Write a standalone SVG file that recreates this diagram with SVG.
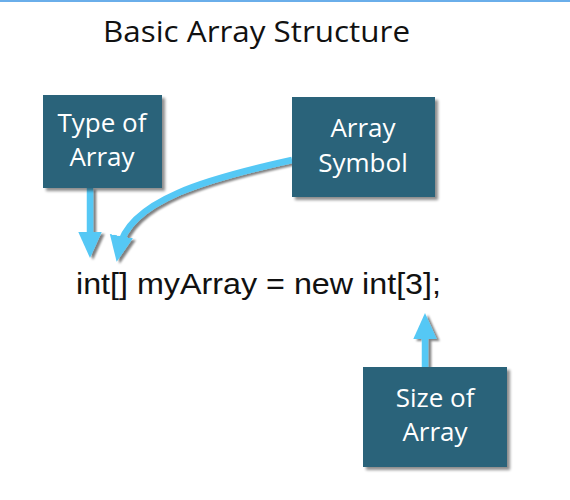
<svg xmlns="http://www.w3.org/2000/svg" width="570" height="500" viewBox="0 0 570 500">
<defs>
<filter id="sh" x="-20%" y="-20%" width="140%" height="140%">
<feGaussianBlur in="SourceAlpha" stdDeviation="1.5"/>
<feOffset dx="3" dy="3" result="b"/>
<feComponentTransfer><feFuncA type="linear" slope="0.45"/></feComponentTransfer>
<feMerge><feMergeNode/><feMergeNode in="SourceGraphic"/></feMerge>
</filter>
<filter id="shc" filterUnits="userSpaceOnUse" x="0" y="0" width="570" height="500">
<feGaussianBlur in="SourceAlpha" stdDeviation="1"/>
<feOffset dx="3" dy="2" result="b"/>
<feComponentTransfer><feFuncA type="linear" slope="0.5"/></feComponentTransfer>
<feMerge><feMergeNode/><feMergeNode in="SourceGraphic"/></feMerge>
</filter>
<marker id="ah" markerWidth="4" markerHeight="4" refX="2" refY="2" orient="auto" markerUnits="strokeWidth" viewBox="0 0 4 4">
<path d="M0,0.2 L4,2 L0,3.8 Z" fill="#55c8f5"/>
</marker>
<style>
.box{fill:#2a637a;filter:url(#sh)}
.bt{fill:#ffffff;font-family:"Open Sans","Noto Sans",sans-serif;font-size:26px;text-anchor:middle}
.con{fill:none;stroke:#55c8f5;stroke-width:6.5;marker-end:url(#ah)}
</style>
</defs>
<rect width="570" height="500" fill="#ffffff"/>
<rect x="0" y="0" width="570" height="2" fill="#6aaeea"/>
<text x="103" y="42" font-family="Open Sans, Noto Sans, sans-serif" font-size="29" fill="#111111" textLength="307" lengthAdjust="spacingAndGlyphs">Basic Array Structure</text>
<g id="connectors" filter="url(#shc)">
<path class="con" d="M90,188 L90,245"/>
<path class="con" d="M292,160 C210,178 128,200 119,249"/>
<path class="con" d="M425,367 L425,326"/>
</g>
<g id="type">
<rect class="box" x="43" y="95" width="119" height="93"/>
<text class="bt" x="102" y="132">Type of</text>
<text class="bt" x="102" y="166">Array</text>
</g>
<g id="symbol">
<rect class="box" x="292" y="97" width="143" height="100"/>
<text class="bt" x="363" y="137">Array</text>
<text class="bt" x="363" y="172">Symbol</text>
</g>
<g id="size">
<rect class="box" x="363" y="367" width="144" height="100"/>
<text class="bt" x="435" y="407">Size of</text>
<text class="bt" x="435" y="441">Array</text>
</g>
<text x="76" y="294" font-family="Liberation Sans, Arial, sans-serif" font-size="29" fill="#111111" textLength="365" lengthAdjust="spacingAndGlyphs">int[] myArray = new int[3];</text>
</svg>
